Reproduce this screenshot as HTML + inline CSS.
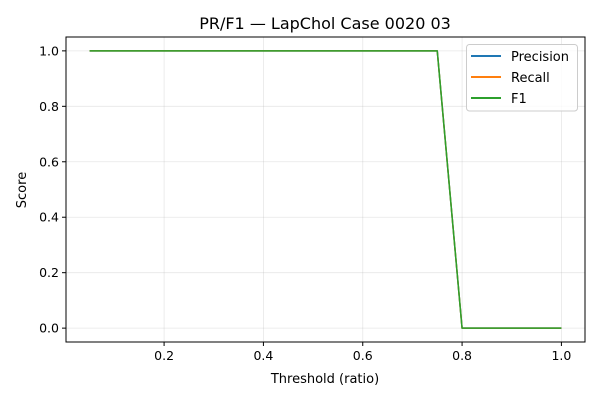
<!DOCTYPE html>
<html><head><meta charset="utf-8"><style>
body{margin:0;background:#fff;font-family:"DejaVu Sans","Liberation Sans",sans-serif}
</style></head><body>
<svg id="chart" width="600" height="400" viewBox="0 0 600 400" xmlns="http://www.w3.org/2000/svg" font-family="DejaVu Sans, Liberation Sans, sans-serif">
<rect width="600" height="400" fill="#fff"/>
<text x="325" y="29" font-size="16" text-anchor="middle">PR/F1 — LapChol Case 0020 03</text>
<g id="grid"></g>
<g id="series"></g>
<rect x="66" y="37" width="519" height="305" fill="none" stroke="#000" stroke-width="1"/>
<g id="ticks" font-size="12.5"></g>
<text x="325" y="383" font-size="13" text-anchor="middle">Threshold (ratio)</text>
<text x="26" y="190" font-size="13" text-anchor="middle" transform="rotate(-90 26 190)">Score</text>
<g>
<rect x="466.5" y="44.5" width="111" height="66.5" rx="3" fill="#fff" fill-opacity="0.8" stroke="#ccc"/>
<g><line x1="471" y1="56" x2="501" y2="56" stroke="#1f77b4" stroke-width="2"/><text x="511" y="61" font-size="13">Precision</text></g>
<g><line x1="471" y1="77" x2="501" y2="77" stroke="#ff7f0e" stroke-width="2"/><text x="511" y="82" font-size="13">Recall</text></g>
<g><line x1="471" y1="98" x2="501" y2="98" stroke="#2ca02c" stroke-width="2"/><text x="511" y="103" font-size="13">F1</text></g>
</g>
</svg>
<script>
const thresholds=[0.05,0.10,0.15,0.20,0.25,0.30,0.35,0.40,0.45,0.50,0.55,0.60,0.65,0.70,0.75,0.80,0.85,0.90,0.95,1.00];
const precision=[1,1,1,1,1,1,1,1,1,1,1,1,1,1,1,0,0,0,0,0];
const recall=[1,1,1,1,1,1,1,1,1,1,1,1,1,1,1,0,0,0,0,0];
const f1=[1,1,1,1,1,1,1,1,1,1,1,1,1,1,1,0,0,0,0,0];
const xTicks=[0.2,0.4,0.6,0.8,1.0];
const yTicks=[0.0,0.2,0.4,0.6,0.8,1.0];
const NS="http://www.w3.org/2000/svg";
const X0=66,X1=585,Y0=342,Y1=37,xmin=0.0025,xmax=1.0475,ymin=-0.05,ymax=1.05;
function sx(v){return X0+(v-xmin)/(xmax-xmin)*(X1-X0);}
function sy(v){return Y0-(v-ymin)/(ymax-ymin)*(Y0-Y1);}
function mk(t,a){const e=document.createElementNS(NS,t);for(const k in a)e.setAttribute(k,a[k]);return e;}
const grid=document.getElementById('grid'),ticks=document.getElementById('ticks'),ser=document.getElementById('series');
xTicks.forEach(v=>{const x=sx(v);
const g=mk('line',{x1:x,x2:x,y1:Y1,y2:Y0,stroke:'#b0b0b0','stroke-opacity':0.3,'stroke-width':0.8});


grid.appendChild(g);
const t=mk('line',{x1:x,x2:x,y1:Y0,y2:Y0+4,stroke:'#000'});


ticks.appendChild(t);
const l=mk('text',{x:x,y:Y0+18,'text-anchor':'middle'});l.textContent=v.toFixed(1);


ticks.appendChild(l);});
yTicks.forEach(v=>{const y=sy(v);
const g=mk('line',{x1:X0,x2:X1,y1:y,y2:y,stroke:'#b0b0b0','stroke-opacity':0.3,'stroke-width':0.8});


grid.appendChild(g);
const t=mk('line',{x1:X0-4,x2:X0,y1:y,y2:y,stroke:'#000'});


ticks.appendChild(t);
const l=mk('text',{x:X0-7,y:y+4.5,'text-anchor':'end'});l.textContent=v.toFixed(1);


ticks.appendChild(l);});
[[precision,'#1f77b4','precision-line'],[recall,'#ff7f0e','recall-line'],[f1,'#2ca02c','f1-line']].forEach(([d,c,n])=>{
const p=mk('polyline',{points:thresholds.map((t,i)=>sx(t)+','+sy(d[i])).join(' '),fill:'none',stroke:c,'stroke-width':1.5,'stroke-linejoin':'round'});


ser.appendChild(p);});
</script>
</body></html>
